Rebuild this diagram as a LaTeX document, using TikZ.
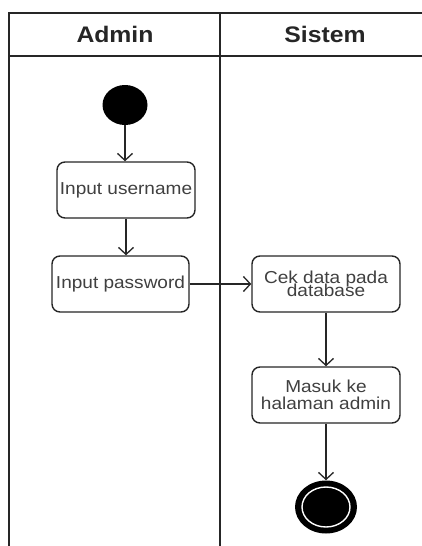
\documentclass[tikz,border=0pt]{standalone}
\usepackage{fontspec}
\setmainfont{Liberation Sans}
\newfontfamily\lanefont[FakeStretch=1.1]{Liberation Sans}
\newcommand\tightlines{\lineskiplimit=-30pt\relax}
\usetikzlibrary{arrows.meta,shapes.geometric}
\begin{document}
\begin{tikzpicture}[x=1pt,y=-1pt,
  frame/.style={line width=1.6pt,draw=black!85},
  lanehead/.style={font=\lanefont\bfseries\fontsize{22.5}{24}\selectfont,text=black!85},
  actbox/.style={draw=black!85,line width=1.4pt,rounded corners=8pt,fill=white,
     minimum height=56pt,inner sep=0pt,align=center,
     font=\lanefont\fontsize{17.3}{12.5}\selectfont\tightlines,text=black!75},
  flow/.style={line width=1.3pt,draw=black!85,-{Straight Barb[length=7pt,width=15pt,line width=1.3pt]}}]
\useasboundingbox (0,0) rectangle (422,546);
% swimlane frame
\draw[frame] (9,546) -- (9,13) -- (430,13);
\draw[frame] (9,56) -- (430,56);
\draw[frame] (220,13) -- (220,546);
\node[lanehead] (hadmin) at (115,34) {Admin};
\node[lanehead] (hsistem) at (325,34) {Sistem};
% nodes
\node[ellipse,fill=black,minimum width=45pt,minimum height=40pt,inner sep=0pt] (start) at (125,105) {};
\node[actbox,minimum width=138pt] (user) at (126,190) {Input username};
\node[actbox,minimum width=137pt] (pass) at (120.5,284) {Input password};
\node[actbox,minimum width=148pt] (cek) at (326,284) {Cek data pada\\database};
\node[actbox,minimum width=148pt,font=\lanefont\fontsize{17.3}{17.5}\selectfont] (masuk) at (326,395) {Masuk ke\\halaman admin};
\node[ellipse,fill=black,minimum width=62pt,minimum height=53pt,inner sep=0pt] (end) at (326,507) {};
\draw[white,line width=1.4pt] (end.center) ellipse (24 and 20);
% connectors
\draw[flow] (start.south) -- (start.south |- user.north);
\draw[flow] (user.south) -- (user.south |- pass.north);
\draw[flow] (pass.east) -- (cek.west);
\draw[flow] (cek.south) -- (masuk.north);
\draw[flow] (masuk.south) -- (end.north);
\end{tikzpicture}
\end{document}
